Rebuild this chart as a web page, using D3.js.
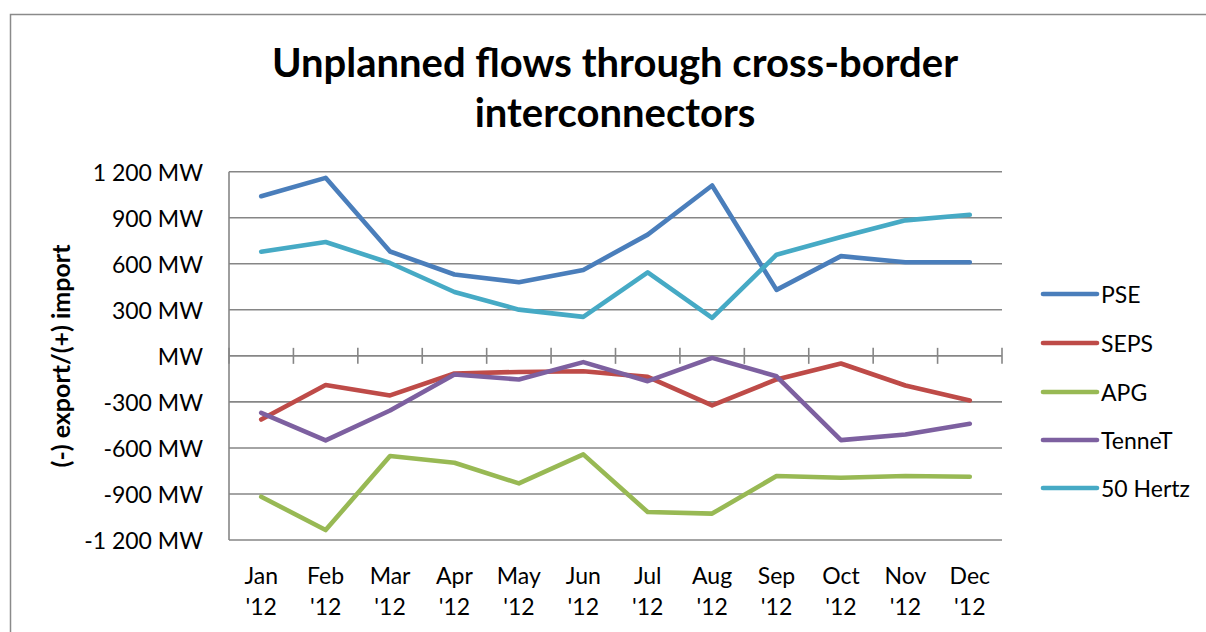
<!DOCTYPE html>
<html>
<head>
<meta charset="utf-8">
<script src="https://cdn.jsdelivr.net/npm/d3@7"></script>
<style>
  html, body { margin: 0; padding: 0; background: #fff; }
  svg { display: block; }
  text { font-family: Lato, "Open Sans", sans-serif; fill: #000; }
</style>
</head>
<body>
<svg id="chart" width="1206" height="632"></svg>
<script>
const months = ["Jan","Feb","Mar","Apr","May","Jun","Jul","Aug","Sep","Oct","Nov","Dec"];
const yearLabel = "'12";
const seriesNames = ["PSE","SEPS","APG","TenneT","50 Hertz"];
const pse    = [1040, 1160, 680, 530, 480, 560, 790, 1110, 430, 650, 610, 610];
const seps   = [-415, -190, -258, -115, -105, -100, -137, -323, -154, -50, -193, -291];
const apg    = [-918, -1135, -653, -697, -831, -642, -1018, -1028, -783, -794, -783, -788];
const tennet = [-371, -551, -356, -122, -154, -41, -165, -13, -133, -549, -512, -443];
const hertz50 = [679, 742, 605, 416, 301, 254, 544, 247, 659, 774, 883, 919];
const yTicks = [-1200, -900, -600, -300, 0, 300, 600, 900, 1200];
const yTickLabels = ["-1 200 MW","-900 MW","-600 MW","-300 MW","MW","300 MW","600 MW","900 MW","1 200 MW"];
const titleLines = ["Unplanned flows through cross-border", "interconnectors"];
const yTitle = "(-) export/(+) import";
const colors = ["#4A7EBB","#BE4B48","#98B954","#7D60A0","#46AAC5"];

const seriesValues = [pse, seps, apg, tennet, hertz50];

const svg = d3.select("#chart");

// outer chart border
svg.append("rect")
  .attr("x", 10.5).attr("y", 14.5)
  .attr("width", 1300).attr("height", 700)
  .attr("fill", "none").attr("stroke", "#8a8a8a").attr("stroke-width", 1.5);

const pLeft = 229, pRight = 1002, pTop = 171.7, pBottom = 540;
const x = d3.scaleBand().domain(months).range([pLeft, pRight]);
const y = d3.scaleLinear().domain([-1200, 1200]).range([pBottom, pTop]);

// gridlines
svg.append("g")
  .selectAll("line").data(yTicks).join("line")
  .attr("x1", pLeft).attr("x2", pRight)
  .attr("y1", d => y(d)).attr("y2", d => y(d))
  .attr("stroke", "#868686").attr("stroke-width", 1.6);

// value axis line
svg.append("line")
  .attr("x1", pLeft).attr("x2", pLeft).attr("y1", pTop).attr("y2", pBottom)
  .attr("stroke", "#868686").attr("stroke-width", 1.6);

// category axis at zero with crossing ticks
const bounds = months.map(m => x(m)).concat([pRight]);
svg.append("g")
  .selectAll("line").data(bounds).join("line")
  .attr("x1", d => d).attr("x2", d => d)
  .attr("y1", y(0) - 8).attr("y2", y(0) + 8)
  .attr("stroke", "#868686").attr("stroke-width", 1.6);

// y tick labels
svg.append("g")
  .selectAll("text").data(yTicks).join("text")
  .attr("x", 203).attr("y", d => y(d))
  .attr("text-anchor", "end").attr("dominant-baseline", "central")
  .attr("font-size", 23)
  .text((d, i) => yTickLabels[i]);

// x labels
const xl = svg.append("g").selectAll("text").data(months).join("text")
  .attr("text-anchor", "middle").attr("font-size", 23);
xl.append("tspan").attr("x", d => x(d) + x.bandwidth() / 2).attr("y", 584).text(d => d);
xl.append("tspan").attr("x", d => x(d) + x.bandwidth() / 2).attr("y", 615).text(yearLabel);

// lines
const line = d3.line()
  .x((d, i) => x(months[i]) + x.bandwidth() / 2)
  .y(d => y(d));
svg.append("g")
  .selectAll("path").data(seriesValues).join("path")
  .attr("d", d => line(d))
  .attr("fill", "none")
  .attr("stroke", (d, i) => colors[i])
  .attr("stroke-width", 4.6)
  .attr("stroke-linejoin", "round")
  .attr("stroke-linecap", "round");

// title
svg.append("g").selectAll("text").data(titleLines).join("text")
  .attr("x", 615).attr("y", (d, i) => 77 + i * 50)
  .attr("text-anchor", "middle")
  .attr("font-size", 40).attr("font-weight", "bold")
  .text(d => d);

// y axis title
svg.append("text")
  .attr("transform", "translate(70,356) rotate(-90)")
  .attr("text-anchor", "middle")
  .attr("font-size", 25).attr("font-weight", "bold")
  .text(yTitle);

// legend
const legendY = [294, 343, 392, 440, 488];
const lg = svg.append("g").selectAll("g").data(seriesNames).join("g")
  .attr("transform", (d, i) => `translate(0,${legendY[i]})`);
lg.append("line")
  .attr("x1", 1043).attr("x2", 1097).attr("y1", 0).attr("y2", 0)
  .attr("stroke", (d, i) => colors[i]).attr("stroke-width", 4.6)
  .attr("stroke-linecap", "round");
lg.append("text")
  .attr("x", 1101).attr("y", 0)
  .attr("dominant-baseline", "central")
  .attr("font-size", 23)
  .text(d => d);
</script>
</body>
</html>
